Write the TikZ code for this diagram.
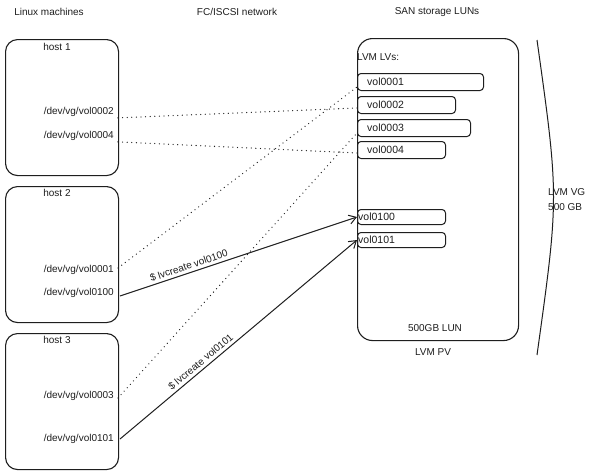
\documentclass[tikz,border=0pt]{standalone}
\usepackage{fontspec}
\setmainfont{Liberation Sans}
\usetikzlibrary{arrows.meta,calc}
\definecolor{ink}{HTML}{1E1E1E}
\begin{document}
\begin{tikzpicture}[x=1pt,y=-1pt,
  box/.style={draw=ink, line width=1.1pt, rounded corners=12pt, anchor=north west, inner sep=0pt},
  volbox/.style={draw=ink, line width=1pt, rounded corners=3.5pt, anchor=north west, inner sep=0pt},
  txt/.style={text=ink, font=\fontsize{10}{11}\selectfont, inner sep=1pt},
  dev/.style={txt, anchor=east},
  voltxt/.style={txt, anchor=west, font=\fontsize{10.5}{11}\selectfont},
  dots/.style={draw=ink, line width=1.3pt, line cap=round, dash pattern=on 0pt off 4.6pt},
  cmd/.style={draw=ink, line width=1pt, -{Straight Barb[length=7pt,width=9pt]}},
]
\useasboundingbox (0,0) rectangle (600,475);
\fill[white] (0,0) rectangle (600,475);

% column titles
\node[txt] (t1) at (49,12) {Linux machines};
\node[txt] (t2) at (237,12) {FC/ISCSI network};
\node[txt] (t3) at (437,12) {SAN storage LUNs};

% hosts
\node[box, minimum width=113pt, minimum height=136pt] (h1) at (5,39) {};
\node[box, minimum width=113pt, minimum height=136pt] (h2) at (5,186) {};
\node[box, minimum width=113pt, minimum height=136pt] (h3) at (5,333) {};
\node[txt] (h1l) at (57,47) {host 1};
\node[txt] (h2l) at (57,193) {host 2};
\node[txt] (h3l) at (57,340) {host 3};

\node[dev] (d2) at (115,112) {/dev/vg/vol0002};
\node[dev] (d4) at (115,136) {/dev/vg/vol0004};
\node[dev] (d1) at (115,270) {/dev/vg/vol0001};
\node[dev] (d100) at (115,293) {/dev/vg/vol0100};
\node[dev] (d3) at (115,396) {/dev/vg/vol0003};
\node[dev] (d101) at (115,439) {/dev/vg/vol0101};

% SAN LUN
\node[box, rounded corners=15pt, minimum width=161pt, minimum height=302pt] (lun) at (357,38) {};
\node[txt, anchor=west] (lvs) at (356,57) {LVM LVs:};
\node[volbox, minimum width=126pt, minimum height=17pt] (v1) at (357,73) {};
\node[volbox, minimum width=98pt, minimum height=17pt] (v2) at (357,96) {};
\node[volbox, minimum width=113pt, minimum height=17pt] (v3) at (357,119) {};
\node[volbox, minimum width=88pt, minimum height=17pt] (v4) at (357,141) {};
\node[volbox, minimum width=88pt, minimum height=15pt] (v100) at (357,209) {};
\node[volbox, minimum width=88pt, minimum height=15pt] (v101) at (357,232) {};
\node[voltxt] (v1t) at (366,81.5) {vol0001};
\node[voltxt] (v2t) at (366,104.5) {vol0002};
\node[voltxt] (v3t) at (366,127.5) {vol0003};
\node[voltxt] (v4t) at (366,149.5) {vol0004};
\node[voltxt] (v100t) at (357,216.5) {vol0100};
\node[voltxt] (v101t) at (357,239.5) {vol0101};
\node[txt] (lunl) at (435,328) {500GB LUN};
\node[txt] (pvl) at (433,352) {LVM PV};

% volume group bracket
\coordinate (vgtop) at (537,40);
\coordinate (vgbot) at (537,355);
\draw[ink, line width=1pt] (vgtop) .. controls (559,197) .. (vgbot);
\node[txt, anchor=west, align=left, font=\fontsize{10}{15}\selectfont] (vg) at (547,200) {LVM VG\\500 GB};

% dotted (shared) mappings
\draw[dots] ([xshift=3pt]d2.south east) -- ([yshift=-3pt]v2.west);
\draw[dots] ([xshift=3pt]d4.south east) -- ([yshift=-3pt]v4.west);
\draw[dots] ([xshift=3pt,yshift=2pt]d1.east) -- ([yshift=-5pt]v1.west);
\draw[dots] ([xshift=3pt,yshift=-2pt]d3.east) -- ([yshift=-5pt]v3.west);

% lvcreate arrows
\draw[cmd] ([xshift=5pt,yshift=-3pt]d100.east) -- (v100.west)
  node[txt, pos=0.3, sloped, above=1.5pt] (c1) {\$ lvcreate vol0100};
\draw[cmd] ([xshift=5pt]d101.east) -- (v101.west)
  node[txt, pos=0.36, sloped, above=1.5pt] (c2) {\$ lvcreate vol0101};
\end{tikzpicture}
\end{document}
